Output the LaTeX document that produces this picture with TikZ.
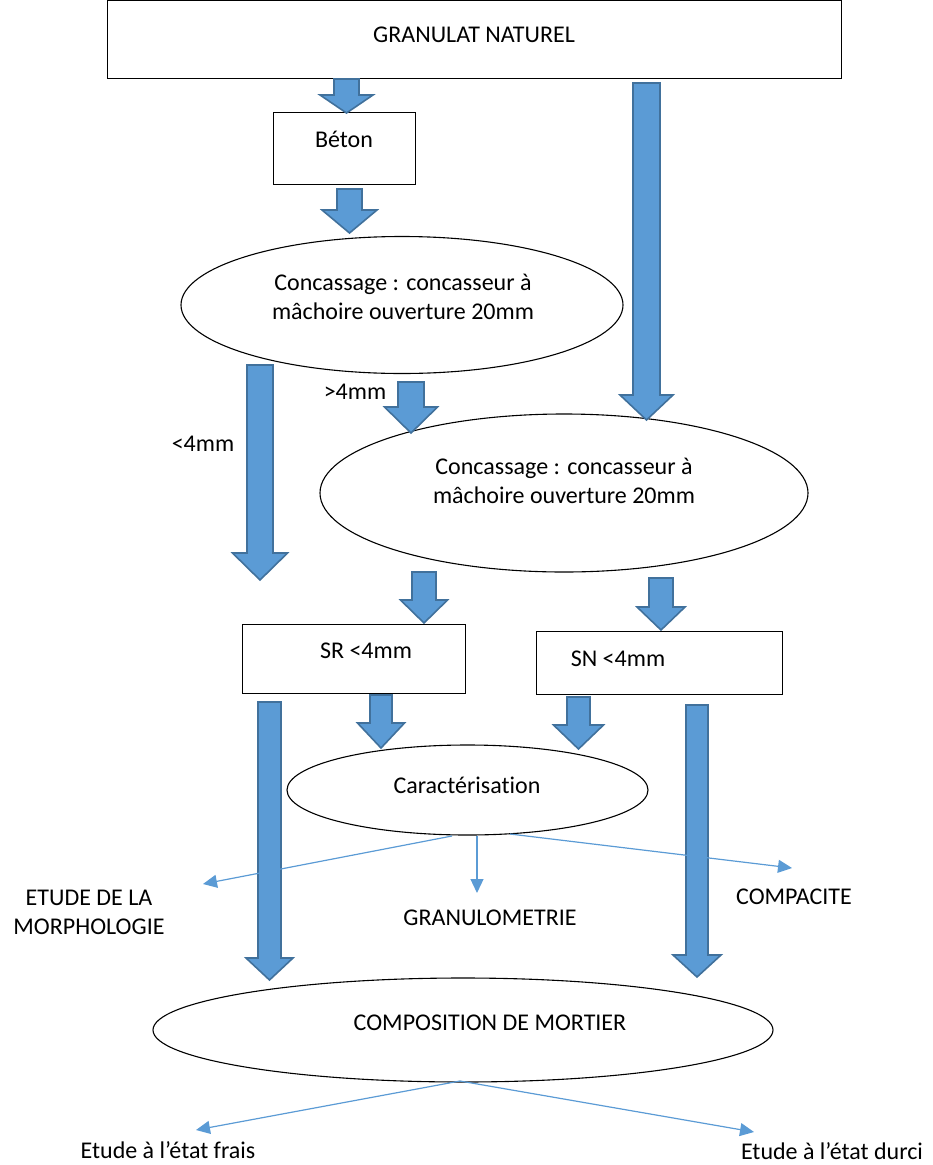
\documentclass[tikz,border=0pt]{standalone}
\usepackage{fontspec}
\setmainfont{Carlito}[Ligatures={NoCommon}]
\usetikzlibrary{shapes.geometric,arrows.meta}
\definecolor{bafill}{HTML}{5B9BD5}
\definecolor{badraw}{HTML}{41719C}
\tikzset{
  blockarrow/.style={fill=bafill,draw=badraw,line width=1.6pt,line join=miter},
  boxnode/.style={draw=black,line width=0.9pt,inner sep=0pt},
  ellnode/.style={ellipse,draw=black,line width=1.1pt,inner sep=0pt},
  txt/.style={font=\fontsize{24}{29}\selectfont,inner sep=0pt,align=center},
  thin/.style={draw=bafill,line width=1.2pt,-{Triangle[length=14pt,width=13pt]}}
}
\newcommand\barw[6]{\draw[blockarrow] ({#1-#2},#4) -- ({#1+#2},#4) -- ({#1+#2},#5) -- ({#1+#3},#5) -- (#1,#6) -- ({#1-#3},#5) -- ({#1-#2},#5) -- cycle;}
\begin{document}
\begin{tikzpicture}[x=1pt,y=-1pt]
\useasboundingbox (0,0) rectangle (932,1165);
% boxes
\node[boxnode,minimum width=734pt,minimum height=78pt] (top) at (474,39.5) {};
\node[txt] (toptxt) at (474,35) {GRANULAT NATUREL};
\node[boxnode,minimum width=142pt,minimum height=72pt] (beton) at (344,148) {};
\node[txt] (betontxt) at (344,139) {Béton};
\node[ellnode,minimum width=442pt,minimum height=137pt] (c1) at (402,305) {};
\node[txt] (c1txt) at (403,297) {Concassage : concasseur à\\mâchoire ouverture 20mm};
\node[ellnode,minimum width=488pt,minimum height=158pt] (c2) at (564,493) {};
\node[txt] (c2txt) at (564,481) {Concassage : concasseur à\\mâchoire ouverture 20mm};
\node[txt] (gt) at (355,392) {>4mm};
\node[txt] (lt) at (203,444) {<4mm};
\node[boxnode,minimum width=223pt,minimum height=69pt] (sr) at (353.5,658.5) {};
\node[txt] (srtxt) at (366,651) {SR <4mm};
\node[boxnode,minimum width=246pt,minimum height=63pt] (sn) at (659,662.5) {};
\node[txt] (sntxt) at (618,659) {SN <4mm};
\node[ellnode,minimum width=361pt,minimum height=90pt] (car) at (467.5,790) {};
\node[txt] (cartxt) at (467,785) {Caractérisation};
\node[txt] (morph) at (89,912) {ETUDE DE LA\\MORPHOLOGIE};
\node[txt] (granu) at (490,918) {GRANULOMETRIE};
\node[txt] (compa) at (794,897) {COMPACITE};
\node[ellnode,minimum width=620pt,minimum height=104pt] (comp) at (463,1030) {};
\node[txt] (comptxt) at (490,1023) {COMPOSITION DE MORTIER};
\node[txt] (frais) at (168,1150) {Etude à l’état frais};
\node[txt] (durci) at (832,1151) {Etude à l’état durci};
% block arrows
\barw{346.5}{12.5}{26.5}{79}{95}{113}
\barw{349.5}{12.5}{27.5}{189}{210}{233}
\barw{646.5}{13.5}{26.5}{83}{395}{420}
\barw{260}{13}{27.5}{365}{553}{580}
\barw{411}{13}{26.5}{382}{407}{433}
\barw{424}{12}{23.5}{572}{600}{623}
\barw{661}{12}{24}{578}{607}{630}
\barw{381}{11}{23.5}{695}{723}{748}
\barw{578.5}{11.5}{25}{697}{725}{749}
\barw{269.5}{11.5}{23.5}{702}{958}{980}
\barw{697}{11}{24}{705}{955}{977}
% thin arrows
\coordinate (carL) at (452,836);
\coordinate (carR) at (510,834);
\coordinate (tipL) at (203,884);
\coordinate (tipM) at (477,893);
\coordinate (tipR) at (792,868);
\coordinate (compB) at (460,1081);
\coordinate (tipF) at (196,1130);
\coordinate (tipD) at (754,1132);
\draw[thin] (carL) -- (tipL);
\draw[thin] (car.south -| tipM) -- (tipM);
\draw[thin] (carR) -- (tipR);
\draw[thin] (compB) -- (tipF);
\draw[thin] (compB) -- (tipD);
\end{tikzpicture}
\end{document}
